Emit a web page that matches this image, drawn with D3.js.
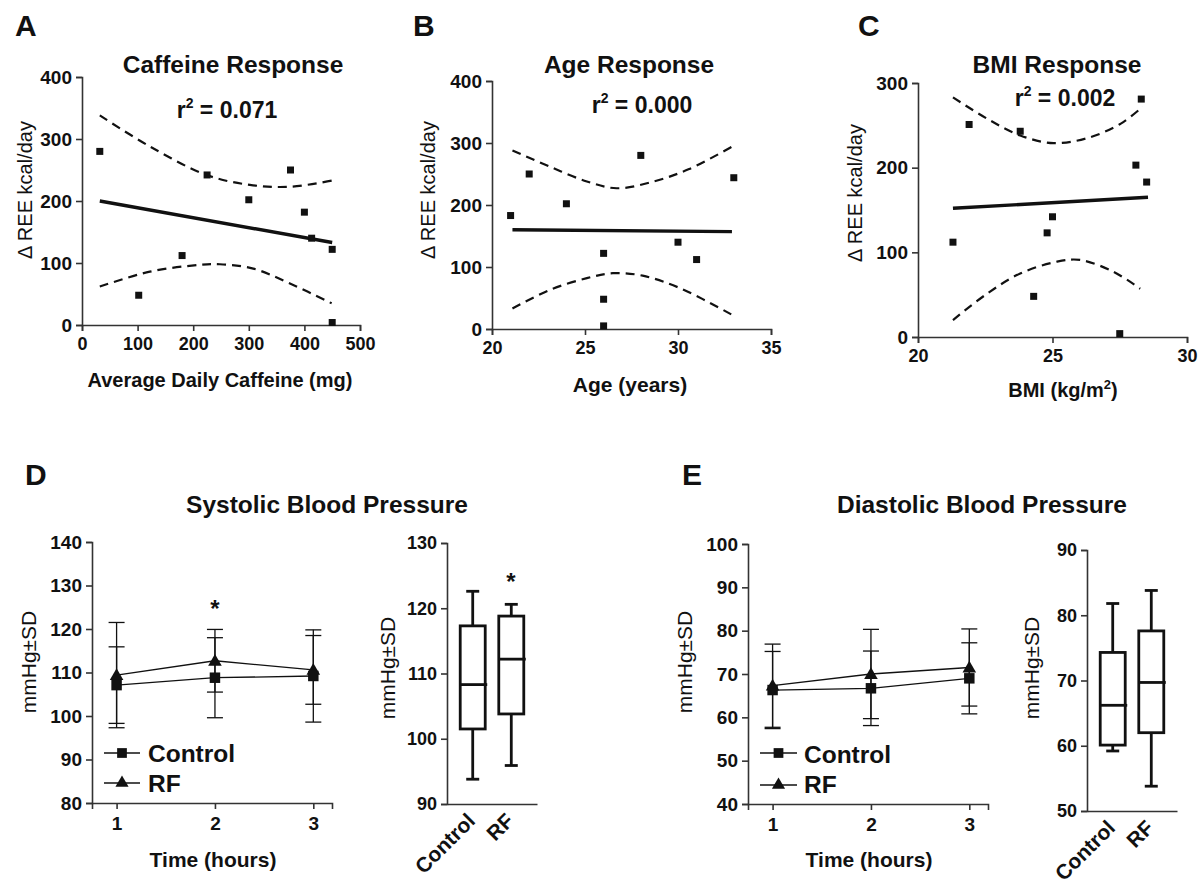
<!DOCTYPE html>
<html>
<head>
<meta charset="utf-8">
<script src="https://cdn.jsdelivr.net/npm/d3@7"></script>
<style>
  body { margin: 0; background: #fff; }
  svg { font-family: "Liberation Sans", Arial, sans-serif; }
</style>
</head>
<body>
<div id="chart"></div>
<script>
// ---- data ----
// A: caffeine
const caffeineX = [32, 102, 180, 225, 300, 375, 400, 413, 450, 450];
const caffeineY = [280, 48, 112, 242, 202, 250, 182, 140, 122, 4];
const caffeineFit = [[32, 200], [450, 133]];
const caffeineUpper = [[32, 338], [122, 288], [224, 242], [302, 226], [374, 223], [450, 233]];
const caffeineLower = [[32, 62], [122, 86], [212, 97], [248, 98], [308, 91], [374, 67], [449, 35]];
// B: age
const ageX = [21, 22, 24, 26, 26, 26, 28, 30, 31, 33];
const ageY = [183, 250, 202, 122, 48, 5, 280, 140, 112, 244];
const ageFit = [[21.1, 160], [32.9, 157]];
const ageUpper = [[21.1, 288], [23.1, 262], [25.1, 238], [26.7, 227], [28.7, 238], [30.6, 258], [32.9, 294]];
const ageLower = [[21.1, 33], [23.1, 63], [25.1, 82], [26.5, 90], [28.1, 86], [30.1, 66], [32.9, 23]];
// C: BMI
const bmiX = [21.3, 21.9, 23.8, 24.3, 24.8, 25.0, 27.5, 28.1, 28.3, 28.5];
const bmiY = [112, 251, 243, 48, 123, 142, 4, 203, 281, 183];
const bmiFit = [[21.3, 152], [28.55, 165]];
const bmiUpper = [[21.3, 283], [22.56, 258], [23.8, 238], [25.04, 229], [26.3, 235], [27.54, 252], [28.35, 272]];
const bmiLower = [[21.3, 20], [22.56, 51], [23.8, 75], [25.17, 89], [26.03, 91], [27.27, 77], [28.26, 57]];

// D/E: blood pressure over time
const timePoints = [1, 2, 3];
const sysControlMean = [107.1, 108.8, 109.2];
const sysControlSD = [8.8, 9.2, 10.6];
const sysRfMean = [109.4, 112.7, 110.6];
const sysRfSD = [12.1, 7.2, 7.9];
const diaControlMean = [66.3, 66.7, 69.0];
const diaControlSD = [8.9, 8.6, 8.2];
const diaRfMean = [67.3, 70.0, 71.5];
const diaRfSD = [9.6, 10.3, 8.9];

// box plots: [min, q1, median, q3, max]
const boxGroups = ["Control", "RF"];
const sysBox = [[93.8, 101.5, 108.3, 117.3, 122.6], [95.9, 103.8, 112.2, 118.8, 120.6]];
const diaBox = [[59.2, 60.1, 66.2, 74.3, 81.8], [53.8, 62.0, 69.7, 77.6, 83.8]];

// tick labels
const caffeineTicks = [0, 100, 200, 300, 400, 500];
const reeTicks400 = [0, 100, 200, 300, 400];
const reeTicks300 = [0, 100, 200, 300];
const ageTicks = [20, 25, 30, 35];
const bmiTicks = [20, 25, 30];
const sysTicks = [80, 90, 100, 110, 120, 130, 140];
const sysBoxTicks = [90, 100, 110, 120, 130];
const diaTicks = [40, 50, 60, 70, 80, 90, 100];
const diaBoxTicks = [50, 60, 70, 80, 90];

// ---- drawing ----
const svg = d3.select("#chart").append("svg")
    .attr("width", 1202).attr("height", 884);

const INK = "#111";

function styleAxis(g, fs) {
    g.attr("font-family", null).attr("font-size", null);
    g.select(".domain").attr("stroke", "#333").attr("stroke-width", 1.6);
    g.selectAll(".tick line").attr("stroke", "#333").attr("stroke-width", 1.6);
    g.selectAll(".tick text")
        .attr("font-size", fs).attr("font-weight", "bold")
        .attr("fill", INK);
}

function label(x, y, txt, opts = {}) {
    return svg.append("text")
        .attr("x", x).attr("y", y)
        .attr("text-anchor", opts.anchor || "middle")
        .attr("font-size", opts.size || 20)
        .attr("font-weight", opts.weight || "bold")
        .attr("fill", INK)
        .text(txt);
}

function vLabel(cx, cy, txt, size) {
    svg.append("text")
        .attr("transform", `translate(${cx + size * 0.35},${cy}) rotate(-90)`)
        .attr("text-anchor", "middle")
        .attr("font-size", size)
        .attr("fill", INK)
        .text(txt);
}

function rSquared(cx, y, val) {
    const t = svg.append("text").attr("x", cx).attr("y", y)
        .attr("text-anchor", "middle").attr("font-size", 23)
        .attr("font-weight", "bold").attr("fill", INK);
    t.append("tspan").text("r");
    t.append("tspan").attr("font-size", 14).attr("dy", -10).text("2");
    t.append("tspan").attr("dy", 10).text(" = " + val);
}

function scatterPanel(o) {
    const x = d3.scaleLinear().domain(o.xDomain).range(o.xRange);
    const y = d3.scaleLinear().domain(o.yDomain).range(o.yRange);

    svg.append("g")
        .attr("transform", `translate(0,${o.yRange[0]})`)
        .call(d3.axisBottom(x).tickValues(o.xTicks).tickSizeOuter(0).tickSize(6).tickPadding(6))
        .call(g => styleAxis(g, 18));
    svg.append("g")
        .attr("transform", `translate(${o.xRange[0]},0)`)
        .call(d3.axisLeft(y).tickValues(o.yTicks).tickSizeOuter(0).tickSize(6).tickPadding(4))
        .call(g => styleAxis(g, 19));

    const line = d3.line().x(d => x(d[0])).y(d => y(d[1]));
    const curve = d3.line().x(d => x(d[0])).y(d => y(d[1])).curve(d3.curveCatmullRom);

    [o.upper, o.lower].forEach(band => {
        svg.append("path").attr("d", curve(band))
            .attr("fill", "none").attr("stroke", INK)
            .attr("stroke-width", 2.2).attr("stroke-dasharray", "9,6");
    });
    svg.append("path").attr("d", line(o.fit))
        .attr("fill", "none").attr("stroke", INK).attr("stroke-width", 3.4);

    svg.append("g").selectAll("rect")
        .data(o.xs.map((v, i) => [v, o.ys[i]]))
        .join("rect")
        .attr("x", d => x(d[0]) - 3.5).attr("y", d => y(d[1]) - 3.5)
        .attr("width", 7).attr("height", 7).attr("fill", INK);
}

// Panel A
scatterPanel({
    xDomain: [0, 500], xRange: [82, 360], yDomain: [0, 400], yRange: [325, 77],
    xTicks: caffeineTicks, yTicks: reeTicks400,
    xs: caffeineX, ys: caffeineY, fit: caffeineFit, upper: caffeineUpper, lower: caffeineLower
});
label(15, 36, "A", {anchor: "start", size: 30});
label(233, 73, "Caffeine Response", {size: 24.5});
rSquared(227, 118, "0.071");
vLabel(25, 190, "\u0394 REE kcal/day", 20);
label(220, 387, "Average Daily Caffeine (mg)", {size: 20});

// Panel B
scatterPanel({
    xDomain: [20, 35], xRange: [492, 771], yDomain: [0, 400], yRange: [329, 81],
    xTicks: ageTicks, yTicks: reeTicks400,
    xs: ageX, ys: ageY, fit: ageFit, upper: ageUpper, lower: ageLower
});
label(413, 36, "B", {anchor: "start", size: 30});
label(629, 73, "Age Response", {size: 24.5});
rSquared(642, 113, "0.000");
vLabel(428, 190, "\u0394 REE kcal/day", 20);
label(630, 392, "Age (years)", {size: 21});

// Panel C
scatterPanel({
    xDomain: [20, 30], xRange: [918, 1187], yDomain: [0, 300], yRange: [337, 83],
    xTicks: bmiTicks, yTicks: reeTicks300,
    xs: bmiX, ys: bmiY, fit: bmiFit, upper: bmiUpper, lower: bmiLower
});
label(858, 36, "C", {anchor: "start", size: 30});
label(1057, 73, "BMI Response", {size: 24.5});
rSquared(1065, 106, "0.002");
vLabel(855, 193, "\u0394 REE kcal/day", 20);
{
    const t = label(1063, 397, "", {size: 20});
    t.append("tspan").text("BMI (kg/m");
    t.append("tspan").attr("font-size", 13).attr("dy", -8).text("2");
    t.append("tspan").attr("dy", 8).text(")");
}

function linePanel(o) {
    const x = d3.scaleLinear().domain([0.75, 3.19]).range(o.xRange);
    const y = d3.scaleLinear().domain(o.yDomain).range(o.yRange);

    svg.append("g")
        .attr("transform", `translate(0,${o.yRange[0]})`)
        .call(d3.axisBottom(x).tickValues(timePoints).tickFormat(d3.format("d"))
            .tickSizeOuter(0).tickSize(6).tickPadding(8))
        .call(g => styleAxis(g, 19));
    svg.append("g")
        .attr("transform", `translate(${o.xRange[0]},0)`)
        .call(d3.axisLeft(y).tickValues(o.yTicks).tickSizeOuter(0).tickSize(6).tickPadding(4))
        .call(g => styleAxis(g, 19));

    const series = [
        {mean: o.rfMean, sd: o.rfSD, shape: "tri"},
        {mean: o.ctlMean, sd: o.ctlSD, shape: "sq"}
    ];
    const line = d3.line().x((d, i) => x(timePoints[i])).y(d => y(d));

    series.forEach(s => {
        const g = svg.append("g").attr("stroke", INK).attr("stroke-width", 1.3).attr("fill", "none");
        timePoints.forEach((t, i) => {
            const px = x(t), hi = y(s.mean[i] + s.sd[i]), lo = y(s.mean[i] - s.sd[i]);
            g.append("line").attr("x1", px).attr("x2", px).attr("y1", hi).attr("y2", lo);
            g.append("line").attr("x1", px - 8).attr("x2", px + 8).attr("y1", hi).attr("y2", hi);
            g.append("line").attr("x1", px - 8).attr("x2", px + 8).attr("y1", lo).attr("y2", lo);
        });
        g.append("path").attr("d", line(s.mean));
    });
    series.forEach(s => {
        const sym = d3.symbol().type(s.shape === "sq" ? d3.symbolSquare : d3.symbolTriangle)
            .size(s.shape === "sq" ? 110 : 80);
        svg.append("g").selectAll("path")
            .data(s.mean)
            .join("path")
            .attr("transform", (d, i) => `translate(${x(timePoints[i])},${y(d) + (s.shape === "tri" ? 1 : 0)})`)
            .attr("d", sym).attr("fill", INK);
    });

    // legend
    const lg = o.legend;
    [["Control", d3.symbolSquare, 95, lg.y1, lg.ty1], ["RF", d3.symbolTriangle, 75, lg.y2, lg.ty2]].forEach(([name, type, size, ly, ty]) => {
        svg.append("line").attr("x1", lg.x1).attr("x2", lg.x2).attr("y1", ly).attr("y2", ly)
            .attr("stroke", INK).attr("stroke-width", 1.3);
        svg.append("path").attr("d", d3.symbol().type(type).size(size)())
            .attr("transform", `translate(${(lg.x1 + lg.x2) / 2},${ly})`).attr("fill", INK);
        label(lg.tx, ty, name, {anchor: "start", size: 24.5});
    });
}

function boxPanel(o) {
    const x = d3.scalePoint().domain(boxGroups).range(o.xRange).padding(0.667);
    const y = d3.scaleLinear().domain(o.yDomain).range(o.yRange);

    svg.append("g")
        .attr("transform", `translate(0,${o.yRange[0]})`)
        .call(d3.axisBottom(x).tickSize(0).tickSizeOuter(0))
        .call(g => {
            styleAxis(g, 21);
            g.selectAll(".tick text")
                .attr("x", 0).attr("y", 0).attr("dy", "0.35em")
                .attr("text-anchor", "end")
                .attr("transform", "translate(-2,13) rotate(-45)");
        });
    svg.append("g")
        .attr("transform", `translate(${o.xRange[0]},0)`)
        .call(d3.axisLeft(y).tickValues(o.yTicks).tickSizeOuter(0).tickSize(6).tickPadding(4))
        .call(g => styleAxis(g, 18));

    const bw = 25, cap = 13;
    const g = svg.append("g").attr("stroke", INK).attr("stroke-width", 2.8).attr("fill", "none");
    o.stats.forEach((s, i) => {
        const cx = x(boxGroups[i]);
        g.append("line").attr("x1", cx).attr("x2", cx).attr("y1", y(s[0])).attr("y2", y(s[1]));
        g.append("line").attr("x1", cx).attr("x2", cx).attr("y1", y(s[3])).attr("y2", y(s[4]));
        g.append("line").attr("x1", cx - cap / 2).attr("x2", cx + cap / 2).attr("y1", y(s[0])).attr("y2", y(s[0]));
        g.append("line").attr("x1", cx - cap / 2).attr("x2", cx + cap / 2).attr("y1", y(s[4])).attr("y2", y(s[4]));
        g.append("rect").attr("x", cx - bw / 2).attr("y", y(s[3]))
            .attr("width", bw).attr("height", y(s[1]) - y(s[3])).attr("fill", "#fff");
        g.append("line").attr("x1", cx - bw / 2).attr("x2", cx + bw / 2 + 2).attr("y1", y(s[2])).attr("y2", y(s[2]));
    });
}

// Panel D
label(25, 485, "D", {anchor: "start", size: 30});
label(327, 513, "Systolic Blood Pressure", {size: 24.5});
linePanel({
    xRange: [92, 332], yDomain: [80, 140], yRange: [803, 542], yTicks: sysTicks,
    ctlMean: sysControlMean, ctlSD: sysControlSD, rfMean: sysRfMean, rfSD: sysRfSD,
    legend: {x1: 104, x2: 140, tx: 148, y1: 753, y2: 783, ty1: 762, ty2: 792}
});
vLabel(29, 662, "mmHg\u00b1SD", 21);
label(213, 867, "Time (hours)", {size: 21});
label(215, 617, "*", {size: 24});
boxPanel({
    xRange: [447, 537], yDomain: [90, 130], yRange: [804, 543], yTicks: sysBoxTicks, stats: sysBox
});
vLabel(388, 668, "mmHg\u00b1SD", 21);
label(511, 590, "*", {size: 24});

// Panel E
label(682, 485, "E", {anchor: "start", size: 30});
label(982, 513, "Diastolic Blood Pressure", {size: 24.5});
linePanel({
    xRange: [748, 988], yDomain: [40, 100], yRange: [804, 544], yTicks: diaTicks,
    ctlMean: diaControlMean, ctlSD: diaControlSD, rfMean: diaRfMean, rfSD: diaRfSD,
    legend: {x1: 760, x2: 797, tx: 804, y1: 753, y2: 785, ty1: 763, ty2: 793}
});
vLabel(685, 662, "mmHg\u00b1SD", 21);
label(869, 867, "Time (hours)", {size: 21});
boxPanel({
    xRange: [1087, 1177], yDomain: [50, 90], yRange: [811, 550], yTicks: diaBoxTicks, stats: diaBox
});
vLabel(1032, 668, "mmHg\u00b1SD", 21);
</script>
</body>
</html>
